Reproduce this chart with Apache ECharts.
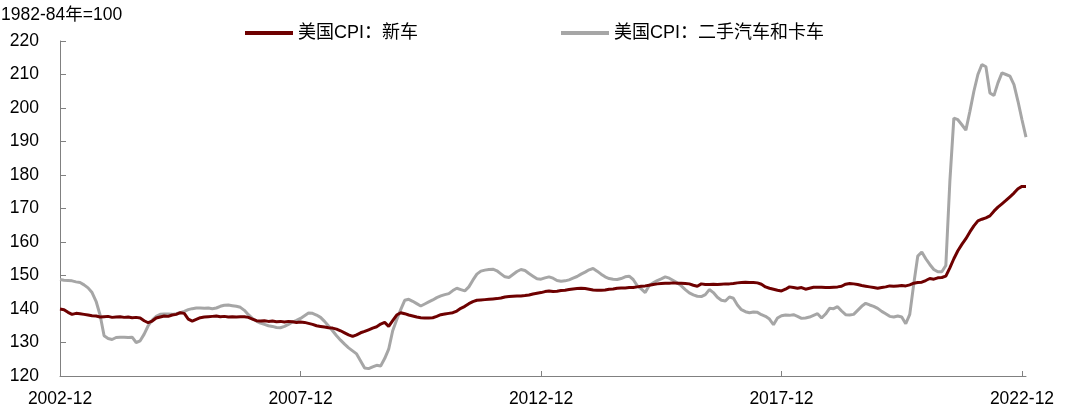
<!DOCTYPE html>
<html>
<head>
<meta charset="utf-8">
<script src="https://cdn.jsdelivr.net/npm/echarts@6/dist/echarts.min.js"></script>
<style>html,body{margin:0;padding:0;background:#fff}#c{width:1069px;height:416px}</style>
</head>
<body>
<div id="c"></div>
<script>
// monthly, 2002-12 .. 2023-01
const startYear = 2002, startMonth = 12, nPoints = 242;
const seriesNames = ['美国CPI：新车', '美国CPI：二手汽车和卡车'];
const yTicks = [120, 130, 140, 150, 160, 170, 180, 190, 200, 210, 220];
const unitLabel = '1982-84年=100';

const newCar = [
140.0,139.8,139.0,138.4,138.7,138.6,138.4,138.2,138.0,137.9,137.6,137.7,
137.8,137.5,137.6,137.7,137.5,137.6,137.4,137.5,137.3,136.5,135.9,136.4,
137.3,137.6,137.9,137.8,138.2,138.4,138.9,138.7,137.0,136.4,136.9,137.4,
137.6,137.7,137.8,137.9,137.7,137.8,137.6,137.7,137.6,137.7,137.7,137.5,
137.0,136.5,136.4,136.5,136.3,136.4,136.2,136.3,136.1,136.3,136.2,136.0,
136.1,136.0,135.7,135.4,135.0,134.8,134.6,134.4,134.3,134.0,133.5,132.9,
132.3,131.8,132.3,132.9,133.3,133.8,134.3,134.7,135.5,136.0,134.8,136.5,
138.2,138.9,138.6,138.2,137.9,137.6,137.4,137.3,137.3,137.4,137.8,138.3,
138.5,138.7,138.9,139.4,140.2,140.8,141.6,142.2,142.6,142.7,142.8,142.9,
143.0,143.1,143.3,143.6,143.7,143.8,143.9,143.9,144.0,144.2,144.5,144.7,
144.9,145.2,145.4,145.2,145.3,145.5,145.6,145.8,146.0,146.1,146.2,146.1,
145.9,145.7,145.6,145.6,145.7,145.9,146.0,146.2,146.3,146.3,146.4,146.4,
146.6,146.8,146.9,147.1,147.3,147.5,147.6,147.7,147.7,147.8,147.7,147.7,
147.6,147.5,147.1,146.8,147.5,147.3,147.3,147.4,147.3,147.4,147.5,147.5,
147.6,147.8,147.9,148.0,147.9,147.9,147.8,147.4,146.6,146.2,145.9,145.6,
145.4,145.9,146.6,146.4,146.2,146.4,145.9,146.2,146.5,146.5,146.5,146.4,
146.4,146.5,146.6,146.8,147.4,147.6,147.5,147.3,147.0,146.8,146.6,146.4,
146.2,146.4,146.6,146.9,146.8,146.9,147.0,146.9,147.2,147.7,147.9,148.0,
148.5,149.1,148.9,149.3,149.4,149.8,152.3,155.0,157.4,159.3,161.0,163.0,
164.8,166.3,166.8,167.2,167.8,169.2,170.4,171.4,172.4,173.5,174.6,175.9,
176.6,176.6
];

const usedCar = [
148.8,148.6,148.5,148.4,148.1,147.9,147.2,146.3,144.9,142.3,138.2,132.0,
131.2,130.9,131.5,131.6,131.6,131.5,131.6,130.0,130.5,132.5,135.0,136.7,
137.8,138.4,138.5,138.5,138.4,138.6,138.9,139.3,139.8,140.1,140.3,140.3,
140.2,140.3,140.1,140.3,140.8,141.1,141.2,141.0,140.8,140.5,139.6,138.3,
137.2,136.4,135.8,135.4,135.0,134.8,134.5,134.4,134.8,135.4,136.1,136.6,
137.2,138.0,138.8,138.7,138.2,137.5,136.3,134.9,133.5,132.0,130.7,129.5,
128.4,127.5,126.6,124.5,122.4,122.2,122.7,123.2,123.0,125.2,128.0,133.5,
136.8,139.8,142.6,142.9,142.3,141.6,140.9,141.5,142.1,142.7,143.4,143.9,
144.3,144.6,145.5,146.2,145.8,145.4,146.6,148.6,150.4,151.3,151.6,151.8,
151.9,151.4,150.5,149.6,149.4,150.3,151.2,151.8,151.5,150.6,149.8,149.0,
148.9,149.3,149.6,149.2,148.5,148.3,148.4,148.7,149.2,149.7,150.4,151.0,
151.7,152.1,151.3,150.4,149.6,149.1,148.9,148.8,149.1,149.6,149.8,148.8,
147.0,146.0,144.9,147.0,147.8,148.5,149.0,149.6,149.2,148.5,147.8,146.9,
145.8,144.8,144.2,143.8,143.7,144.3,145.8,144.9,143.5,142.6,142.4,143.6,
143.2,141.2,139.8,139.2,138.9,139.1,139.0,138.3,137.8,137.0,135.3,137.3,
138.0,138.2,138.1,138.3,137.8,137.2,137.3,137.6,138.1,138.6,137.3,138.5,
140.2,140.1,140.7,139.4,138.3,138.2,138.4,139.6,140.8,141.7,141.2,140.8,
140.2,139.3,138.6,137.8,137.6,137.9,137.6,135.6,138.4,147.5,155.8,157.0,
155.0,153.3,151.8,151.1,151.1,153.0,178.0,197.0,196.5,195.0,193.4,199.0,
205.0,210.0,213.0,212.3,204.5,203.7,207.5,210.5,210.0,209.5,207.0,202.0,
196.5,191.3
];

const categories = [];
for (let k = 0; k < nPoints; k++) {
  const m0 = (startMonth - 1) + k;
  const y = startYear + Math.floor(m0 / 12);
  const m = (m0 % 12) + 1;
  categories.push(y + '-' + (m < 10 ? '0' + m : m));
}

const FONT = '"Liberation Sans", Arial, "Noto Sans CJK SC", sans-serif';
const chart = echarts.init(document.getElementById('c'), null, {renderer: 'canvas'});
chart.setOption({
  animation: false,
  backgroundColor: '#ffffff',
  textStyle: {fontFamily: FONT, color: '#000'},
  title: {
    text: unitLabel, left: 1, top: 6, padding: 0,
    textStyle: {fontFamily: FONT, fontSize: 17.5, fontWeight: 'normal', color: '#000'}
  },
  legend: [
    {
      data: [seriesNames[0]], left: 245, top: 24, padding: 0,
      itemWidth: 48, itemHeight: 4, itemGap: 4,
      icon: 'rect',
      textStyle: {fontFamily: FONT, fontSize: 18, color: '#000'}
    },
    {
      data: [seriesNames[1]], left: 561, top: 24, padding: 0,
      itemWidth: 48, itemHeight: 4, itemGap: 4,
      icon: 'rect',
      textStyle: {fontFamily: FONT, fontSize: 18, color: '#000'}
    }
  ],
  grid: {left: 60, right: 43, top: 41, bottom: 40, containLabel: false},
  xAxis: {
    type: 'category',
    data: categories,
    boundaryGap: false,
    axisLine: {show: true, lineStyle: {color: '#808080', width: 1}},
    axisTick: {show: true, inside: true, length: 5, interval: 59, lineStyle: {color: '#808080'}},
    axisLabel: {interval: 59, margin: 14, fontSize: 17.5, color: '#000', fontFamily: FONT},
    splitLine: {show: false}
  },
  yAxis: {
    type: 'value',
    min: yTicks[0], max: yTicks[yTicks.length - 1], interval: 10,
    axisLine: {show: true, lineStyle: {color: '#808080', width: 1}},
    axisTick: {show: true, inside: true, length: 6, lineStyle: {color: '#808080'}},
    axisLabel: {margin: 21, fontSize: 17.5, color: '#000', fontFamily: FONT},
    splitLine: {show: false}
  },
  series: [
    {
      name: seriesNames[0], type: 'line', data: newCar,
      showSymbol: false, symbol: 'none', z: 3,
      lineStyle: {color: '#6E0000', width: 3},
      itemStyle: {color: '#6E0000'}
    },
    {
      name: seriesNames[1], type: 'line', data: usedCar,
      showSymbol: false, symbol: 'none', z: 2,
      lineStyle: {color: '#A6A6A6', width: 3},
      itemStyle: {color: '#A6A6A6'}
    }
  ]
});
</script>
</body>
</html>
